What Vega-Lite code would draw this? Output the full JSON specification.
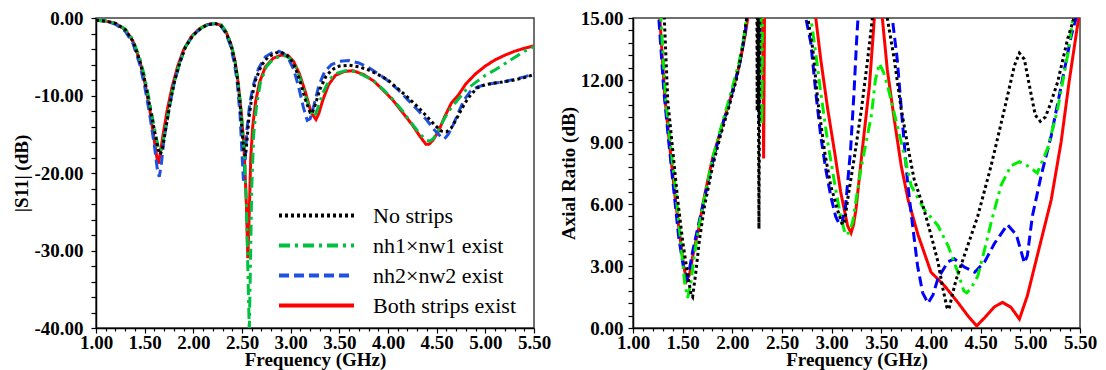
{
  "$schema": "https://vega.github.io/schema/vega-lite/v6.json",
  "background": "white",
  "padding": {"left": 12, "top": 8, "right": 5, "bottom": 2},
  "spacing": 6,
  "config": {
    "view": {"stroke": "#404040", "strokeWidth": 1.5},
    "axis": {
      "grid": false,
      "labelFont": "Liberation Serif", "labelFontWeight": "bold", "labelFontSize": 19, "labelColor": "black",
      "titleFont": "Liberation Serif", "titleFontWeight": "bold", "titleFontSize": 19, "titleColor": "black",
      "domainColor": "black", "domainWidth": 1.5, "tickColor": "black", "tickWidth": 1.2,
      "labelOverlap": false, "labelFlush": false
    }
  },
  "datasets": {
    "s11": [
      {"f":1.00,"v":-0.3,"s":"Both strips exist"},{"f":1.10,"v":-0.4,"s":"Both strips exist"},{"f":1.20,"v":-0.7,"s":"Both strips exist"},{"f":1.30,"v":-1.5,"s":"Both strips exist"},{"f":1.38,"v":-3.0,"s":"Both strips exist"},{"f":1.45,"v":-5.5,"s":"Both strips exist"},{"f":1.50,"v":-8.2,"s":"Both strips exist"},{"f":1.55,"v":-11.6,"s":"Both strips exist"},{"f":1.59,"v":-15.0,"s":"Both strips exist"},{"f":1.625,"v":-18.0,"s":"Both strips exist"},{"f":1.64,"v":-18.8,"s":"Both strips exist"},{"f":1.66,"v":-17.5,"s":"Both strips exist"},{"f":1.69,"v":-15.0,"s":"Both strips exist"},{"f":1.73,"v":-12.0,"s":"Both strips exist"},{"f":1.78,"v":-9.0,"s":"Both strips exist"},{"f":1.84,"v":-6.2,"s":"Both strips exist"},{"f":1.90,"v":-4.1,"s":"Both strips exist"},{"f":1.98,"v":-2.4,"s":"Both strips exist"},{"f":2.06,"v":-1.4,"s":"Both strips exist"},{"f":2.14,"v":-0.85,"s":"Both strips exist"},{"f":2.22,"v":-0.7,"s":"Both strips exist"},{"f":2.29,"v":-0.95,"s":"Both strips exist"},{"f":2.34,"v":-1.9,"s":"Both strips exist"},{"f":2.39,"v":-3.5,"s":"Both strips exist"},{"f":2.43,"v":-5.7,"s":"Both strips exist"},{"f":2.46,"v":-8.3,"s":"Both strips exist"},{"f":2.49,"v":-11.9,"s":"Both strips exist"},{"f":2.52,"v":-16.5,"s":"Both strips exist"},{"f":2.545,"v":-24.0,"s":"Both strips exist"},{"f":2.56,"v":-31.0,"s":"Both strips exist"},{"f":2.575,"v":-25.0,"s":"Both strips exist"},{"f":2.59,"v":-18.0,"s":"Both strips exist"},{"f":2.61,"v":-14.0,"s":"Both strips exist"},{"f":2.64,"v":-10.8,"s":"Both strips exist"},{"f":2.68,"v":-8.3,"s":"Both strips exist"},{"f":2.74,"v":-6.3,"s":"Both strips exist"},{"f":2.82,"v":-5.2,"s":"Both strips exist"},{"f":2.90,"v":-4.8,"s":"Both strips exist"},{"f":2.97,"v":-4.8,"s":"Both strips exist"},{"f":3.03,"v":-5.6,"s":"Both strips exist"},{"f":3.09,"v":-7.2,"s":"Both strips exist"},{"f":3.15,"v":-9.5,"s":"Both strips exist"},{"f":3.21,"v":-12.2,"s":"Both strips exist"},{"f":3.26,"v":-13.1,"s":"Both strips exist"},{"f":3.29,"v":-12.3,"s":"Both strips exist"},{"f":3.33,"v":-10.6,"s":"Both strips exist"},{"f":3.39,"v":-8.6,"s":"Both strips exist"},{"f":3.46,"v":-7.4,"s":"Both strips exist"},{"f":3.55,"v":-6.9,"s":"Both strips exist"},{"f":3.64,"v":-6.8,"s":"Both strips exist"},{"f":3.75,"v":-7.3,"s":"Both strips exist"},{"f":3.85,"v":-8.1,"s":"Both strips exist"},{"f":3.95,"v":-9.3,"s":"Both strips exist"},{"f":4.05,"v":-10.6,"s":"Both strips exist"},{"f":4.15,"v":-12.2,"s":"Both strips exist"},{"f":4.25,"v":-13.8,"s":"Both strips exist"},{"f":4.33,"v":-15.3,"s":"Both strips exist"},{"f":4.39,"v":-16.3,"s":"Both strips exist"},{"f":4.42,"v":-16.3,"s":"Both strips exist"},{"f":4.46,"v":-15.8,"s":"Both strips exist"},{"f":4.52,"v":-14.6,"s":"Both strips exist"},{"f":4.58,"v":-12.8,"s":"Both strips exist"},{"f":4.65,"v":-11.0,"s":"Both strips exist"},{"f":4.72,"v":-10.0,"s":"Both strips exist"},{"f":4.80,"v":-8.5,"s":"Both strips exist"},{"f":4.90,"v":-7.2,"s":"Both strips exist"},{"f":5.00,"v":-6.2,"s":"Both strips exist"},{"f":5.10,"v":-5.4,"s":"Both strips exist"},{"f":5.20,"v":-4.8,"s":"Both strips exist"},{"f":5.30,"v":-4.3,"s":"Both strips exist"},{"f":5.40,"v":-3.9,"s":"Both strips exist"},{"f":5.50,"v":-3.6,"s":"Both strips exist"},

      {"f":1.00,"v":-0.3,"s":"nh2×nw2 exist"},{"f":1.10,"v":-0.4,"s":"nh2×nw2 exist"},{"f":1.20,"v":-0.8,"s":"nh2×nw2 exist"},{"f":1.30,"v":-1.7,"s":"nh2×nw2 exist"},{"f":1.38,"v":-3.3,"s":"nh2×nw2 exist"},{"f":1.45,"v":-6.0,"s":"nh2×nw2 exist"},{"f":1.50,"v":-8.8,"s":"nh2×nw2 exist"},{"f":1.55,"v":-12.3,"s":"nh2×nw2 exist"},{"f":1.60,"v":-16.5,"s":"nh2×nw2 exist"},{"f":1.63,"v":-19.5,"s":"nh2×nw2 exist"},{"f":1.65,"v":-20.5,"s":"nh2×nw2 exist"},{"f":1.67,"v":-19.0,"s":"nh2×nw2 exist"},{"f":1.70,"v":-15.5,"s":"nh2×nw2 exist"},{"f":1.75,"v":-11.8,"s":"nh2×nw2 exist"},{"f":1.80,"v":-8.5,"s":"nh2×nw2 exist"},{"f":1.86,"v":-5.8,"s":"nh2×nw2 exist"},{"f":1.92,"v":-3.7,"s":"nh2×nw2 exist"},{"f":2.00,"v":-2.2,"s":"nh2×nw2 exist"},{"f":2.08,"v":-1.3,"s":"nh2×nw2 exist"},{"f":2.15,"v":-0.85,"s":"nh2×nw2 exist"},{"f":2.22,"v":-0.75,"s":"nh2×nw2 exist"},{"f":2.28,"v":-1.0,"s":"nh2×nw2 exist"},{"f":2.33,"v":-1.9,"s":"nh2×nw2 exist"},{"f":2.38,"v":-3.5,"s":"nh2×nw2 exist"},{"f":2.42,"v":-5.7,"s":"nh2×nw2 exist"},{"f":2.45,"v":-8.2,"s":"nh2×nw2 exist"},{"f":2.48,"v":-12.5,"s":"nh2×nw2 exist"},{"f":2.50,"v":-17.5,"s":"nh2×nw2 exist"},{"f":2.515,"v":-21.0,"s":"nh2×nw2 exist"},{"f":2.53,"v":-19.0,"s":"nh2×nw2 exist"},{"f":2.55,"v":-14.5,"s":"nh2×nw2 exist"},{"f":2.58,"v":-11.0,"s":"nh2×nw2 exist"},{"f":2.62,"v":-8.5,"s":"nh2×nw2 exist"},{"f":2.67,"v":-6.5,"s":"nh2×nw2 exist"},{"f":2.74,"v":-5.0,"s":"nh2×nw2 exist"},{"f":2.82,"v":-4.4,"s":"nh2×nw2 exist"},{"f":2.88,"v":-4.3,"s":"nh2×nw2 exist"},{"f":2.93,"v":-4.6,"s":"nh2×nw2 exist"},{"f":2.98,"v":-5.3,"s":"nh2×nw2 exist"},{"f":3.03,"v":-6.6,"s":"nh2×nw2 exist"},{"f":3.08,"v":-8.8,"s":"nh2×nw2 exist"},{"f":3.13,"v":-11.5,"s":"nh2×nw2 exist"},{"f":3.17,"v":-13.2,"s":"nh2×nw2 exist"},{"f":3.20,"v":-13.0,"s":"nh2×nw2 exist"},{"f":3.24,"v":-11.2,"s":"nh2×nw2 exist"},{"f":3.29,"v":-8.7,"s":"nh2×nw2 exist"},{"f":3.35,"v":-6.9,"s":"nh2×nw2 exist"},{"f":3.42,"v":-6.0,"s":"nh2×nw2 exist"},{"f":3.50,"v":-5.6,"s":"nh2×nw2 exist"},{"f":3.60,"v":-5.5,"s":"nh2×nw2 exist"},{"f":3.70,"v":-5.8,"s":"nh2×nw2 exist"},{"f":3.80,"v":-6.4,"s":"nh2×nw2 exist"},{"f":3.90,"v":-7.2,"s":"nh2×nw2 exist"},{"f":4.00,"v":-8.1,"s":"nh2×nw2 exist"},{"f":4.10,"v":-9.2,"s":"nh2×nw2 exist"},{"f":4.20,"v":-10.5,"s":"nh2×nw2 exist"},{"f":4.30,"v":-11.8,"s":"nh2×nw2 exist"},{"f":4.40,"v":-13.2,"s":"nh2×nw2 exist"},{"f":4.48,"v":-14.5,"s":"nh2×nw2 exist"},{"f":4.55,"v":-15.4,"s":"nh2×nw2 exist"},{"f":4.58,"v":-15.6,"s":"nh2×nw2 exist"},{"f":4.62,"v":-15.0,"s":"nh2×nw2 exist"},{"f":4.67,"v":-13.8,"s":"nh2×nw2 exist"},{"f":4.72,"v":-12.3,"s":"nh2×nw2 exist"},{"f":4.78,"v":-10.6,"s":"nh2×nw2 exist"},{"f":4.85,"v":-9.4,"s":"nh2×nw2 exist"},{"f":4.92,"v":-8.9,"s":"nh2×nw2 exist"},{"f":5.00,"v":-8.6,"s":"nh2×nw2 exist"},{"f":5.10,"v":-8.4,"s":"nh2×nw2 exist"},{"f":5.20,"v":-8.2,"s":"nh2×nw2 exist"},{"f":5.30,"v":-7.9,"s":"nh2×nw2 exist"},{"f":5.40,"v":-7.6,"s":"nh2×nw2 exist"},{"f":5.50,"v":-7.2,"s":"nh2×nw2 exist"},

      {"f":1.00,"v":-0.3,"s":"nh1×nw1 exist"},{"f":1.10,"v":-0.4,"s":"nh1×nw1 exist"},{"f":1.20,"v":-0.7,"s":"nh1×nw1 exist"},{"f":1.30,"v":-1.4,"s":"nh1×nw1 exist"},{"f":1.38,"v":-2.8,"s":"nh1×nw1 exist"},{"f":1.45,"v":-5.2,"s":"nh1×nw1 exist"},{"f":1.50,"v":-7.6,"s":"nh1×nw1 exist"},{"f":1.55,"v":-10.8,"s":"nh1×nw1 exist"},{"f":1.60,"v":-14.2,"s":"nh1×nw1 exist"},{"f":1.64,"v":-16.7,"s":"nh1×nw1 exist"},{"f":1.665,"v":-17.2,"s":"nh1×nw1 exist"},{"f":1.69,"v":-16.0,"s":"nh1×nw1 exist"},{"f":1.72,"v":-13.8,"s":"nh1×nw1 exist"},{"f":1.76,"v":-11.0,"s":"nh1×nw1 exist"},{"f":1.80,"v":-8.5,"s":"nh1×nw1 exist"},{"f":1.86,"v":-5.8,"s":"nh1×nw1 exist"},{"f":1.92,"v":-3.7,"s":"nh1×nw1 exist"},{"f":2.00,"v":-2.2,"s":"nh1×nw1 exist"},{"f":2.08,"v":-1.3,"s":"nh1×nw1 exist"},{"f":2.15,"v":-0.85,"s":"nh1×nw1 exist"},{"f":2.22,"v":-0.7,"s":"nh1×nw1 exist"},{"f":2.29,"v":-0.9,"s":"nh1×nw1 exist"},{"f":2.34,"v":-1.8,"s":"nh1×nw1 exist"},{"f":2.39,"v":-3.4,"s":"nh1×nw1 exist"},{"f":2.43,"v":-5.6,"s":"nh1×nw1 exist"},{"f":2.46,"v":-8.2,"s":"nh1×nw1 exist"},{"f":2.49,"v":-11.8,"s":"nh1×nw1 exist"},{"f":2.52,"v":-16.5,"s":"nh1×nw1 exist"},{"f":2.545,"v":-24.0,"s":"nh1×nw1 exist"},{"f":2.565,"v":-35.0,"s":"nh1×nw1 exist"},{"f":2.575,"v":-40.5,"s":"nh1×nw1 exist"},{"f":2.585,"v":-33.0,"s":"nh1×nw1 exist"},{"f":2.60,"v":-22.0,"s":"nh1×nw1 exist"},{"f":2.62,"v":-15.0,"s":"nh1×nw1 exist"},{"f":2.65,"v":-11.2,"s":"nh1×nw1 exist"},{"f":2.69,"v":-8.3,"s":"nh1×nw1 exist"},{"f":2.75,"v":-6.3,"s":"nh1×nw1 exist"},{"f":2.82,"v":-5.3,"s":"nh1×nw1 exist"},{"f":2.90,"v":-4.9,"s":"nh1×nw1 exist"},{"f":2.95,"v":-4.9,"s":"nh1×nw1 exist"},{"f":3.00,"v":-5.3,"s":"nh1×nw1 exist"},{"f":3.06,"v":-6.5,"s":"nh1×nw1 exist"},{"f":3.12,"v":-8.6,"s":"nh1×nw1 exist"},{"f":3.18,"v":-11.2,"s":"nh1×nw1 exist"},{"f":3.23,"v":-12.7,"s":"nh1×nw1 exist"},{"f":3.25,"v":-12.6,"s":"nh1×nw1 exist"},{"f":3.28,"v":-11.6,"s":"nh1×nw1 exist"},{"f":3.33,"v":-9.7,"s":"nh1×nw1 exist"},{"f":3.40,"v":-7.9,"s":"nh1×nw1 exist"},{"f":3.48,"v":-7.1,"s":"nh1×nw1 exist"},{"f":3.56,"v":-6.8,"s":"nh1×nw1 exist"},{"f":3.65,"v":-6.9,"s":"nh1×nw1 exist"},{"f":3.75,"v":-7.4,"s":"nh1×nw1 exist"},{"f":3.85,"v":-8.1,"s":"nh1×nw1 exist"},{"f":3.95,"v":-9.2,"s":"nh1×nw1 exist"},{"f":4.05,"v":-10.5,"s":"nh1×nw1 exist"},{"f":4.15,"v":-12.0,"s":"nh1×nw1 exist"},{"f":4.25,"v":-13.7,"s":"nh1×nw1 exist"},{"f":4.33,"v":-15.0,"s":"nh1×nw1 exist"},{"f":4.40,"v":-15.8,"s":"nh1×nw1 exist"},{"f":4.43,"v":-15.9,"s":"nh1×nw1 exist"},{"f":4.47,"v":-15.5,"s":"nh1×nw1 exist"},{"f":4.52,"v":-14.5,"s":"nh1×nw1 exist"},{"f":4.57,"v":-13.2,"s":"nh1×nw1 exist"},{"f":4.63,"v":-11.9,"s":"nh1×nw1 exist"},{"f":4.70,"v":-10.8,"s":"nh1×nw1 exist"},{"f":4.80,"v":-9.3,"s":"nh1×nw1 exist"},{"f":4.90,"v":-8.3,"s":"nh1×nw1 exist"},{"f":5.00,"v":-7.4,"s":"nh1×nw1 exist"},{"f":5.10,"v":-6.7,"s":"nh1×nw1 exist"},{"f":5.20,"v":-5.9,"s":"nh1×nw1 exist"},{"f":5.30,"v":-5.1,"s":"nh1×nw1 exist"},{"f":5.40,"v":-4.3,"s":"nh1×nw1 exist"},{"f":5.50,"v":-3.7,"s":"nh1×nw1 exist"},

      {"f":1.00,"v":-0.3,"s":"No strips"},{"f":1.10,"v":-0.4,"s":"No strips"},{"f":1.20,"v":-0.7,"s":"No strips"},{"f":1.30,"v":-1.5,"s":"No strips"},{"f":1.38,"v":-3.0,"s":"No strips"},{"f":1.45,"v":-5.5,"s":"No strips"},{"f":1.50,"v":-8.0,"s":"No strips"},{"f":1.55,"v":-11.2,"s":"No strips"},{"f":1.60,"v":-14.5,"s":"No strips"},{"f":1.64,"v":-17.0,"s":"No strips"},{"f":1.66,"v":-17.6,"s":"No strips"},{"f":1.68,"v":-17.0,"s":"No strips"},{"f":1.71,"v":-14.8,"s":"No strips"},{"f":1.75,"v":-11.8,"s":"No strips"},{"f":1.80,"v":-8.5,"s":"No strips"},{"f":1.86,"v":-5.8,"s":"No strips"},{"f":1.92,"v":-3.7,"s":"No strips"},{"f":2.00,"v":-2.2,"s":"No strips"},{"f":2.08,"v":-1.3,"s":"No strips"},{"f":2.15,"v":-0.85,"s":"No strips"},{"f":2.22,"v":-0.7,"s":"No strips"},{"f":2.28,"v":-0.95,"s":"No strips"},{"f":2.33,"v":-1.8,"s":"No strips"},{"f":2.38,"v":-3.2,"s":"No strips"},{"f":2.42,"v":-5.2,"s":"No strips"},{"f":2.45,"v":-7.5,"s":"No strips"},{"f":2.48,"v":-11.0,"s":"No strips"},{"f":2.50,"v":-14.5,"s":"No strips"},{"f":2.52,"v":-17.3,"s":"No strips"},{"f":2.535,"v":-17.8,"s":"No strips"},{"f":2.55,"v":-16.0,"s":"No strips"},{"f":2.57,"v":-13.0,"s":"No strips"},{"f":2.60,"v":-10.3,"s":"No strips"},{"f":2.64,"v":-8.0,"s":"No strips"},{"f":2.70,"v":-6.1,"s":"No strips"},{"f":2.77,"v":-5.0,"s":"No strips"},{"f":2.85,"v":-4.5,"s":"No strips"},{"f":2.90,"v":-4.4,"s":"No strips"},{"f":2.95,"v":-4.7,"s":"No strips"},{"f":3.00,"v":-5.3,"s":"No strips"},{"f":3.05,"v":-6.5,"s":"No strips"},{"f":3.10,"v":-8.3,"s":"No strips"},{"f":3.15,"v":-10.5,"s":"No strips"},{"f":3.20,"v":-12.2,"s":"No strips"},{"f":3.22,"v":-12.3,"s":"No strips"},{"f":3.25,"v":-11.3,"s":"No strips"},{"f":3.30,"v":-9.2,"s":"No strips"},{"f":3.36,"v":-7.6,"s":"No strips"},{"f":3.42,"v":-6.7,"s":"No strips"},{"f":3.50,"v":-6.2,"s":"No strips"},{"f":3.60,"v":-6.1,"s":"No strips"},{"f":3.70,"v":-6.3,"s":"No strips"},{"f":3.80,"v":-6.7,"s":"No strips"},{"f":3.90,"v":-7.3,"s":"No strips"},{"f":4.00,"v":-8.0,"s":"No strips"},{"f":4.10,"v":-9.1,"s":"No strips"},{"f":4.20,"v":-10.2,"s":"No strips"},{"f":4.30,"v":-11.4,"s":"No strips"},{"f":4.40,"v":-12.7,"s":"No strips"},{"f":4.48,"v":-13.8,"s":"No strips"},{"f":4.55,"v":-14.6,"s":"No strips"},{"f":4.60,"v":-14.7,"s":"No strips"},{"f":4.65,"v":-14.2,"s":"No strips"},{"f":4.70,"v":-13.1,"s":"No strips"},{"f":4.75,"v":-11.9,"s":"No strips"},{"f":4.80,"v":-10.8,"s":"No strips"},{"f":4.85,"v":-9.9,"s":"No strips"},{"f":4.92,"v":-9.0,"s":"No strips"},{"f":5.00,"v":-8.6,"s":"No strips"},{"f":5.10,"v":-8.4,"s":"No strips"},{"f":5.20,"v":-8.2,"s":"No strips"},{"f":5.30,"v":-8.0,"s":"No strips"},{"f":5.40,"v":-7.7,"s":"No strips"},{"f":5.50,"v":-7.3,"s":"No strips"}
    ],
    "ar": [
      {"f":1.23,"v":20,"s":"Both strips exist"},{"f":1.27,"v":15,"s":"Both strips exist"},{"f":1.32,"v":11.2,"s":"Both strips exist"},{"f":1.37,"v":8.8,"s":"Both strips exist"},{"f":1.42,"v":6.5,"s":"Both strips exist"},{"f":1.47,"v":4.5,"s":"Both strips exist"},{"f":1.51,"v":3.0,"s":"Both strips exist"},{"f":1.54,"v":2.3,"s":"Both strips exist"},{"f":1.57,"v":2.6,"s":"Both strips exist"},{"f":1.61,"v":3.7,"s":"Both strips exist"},{"f":1.66,"v":4.8,"s":"Both strips exist"},{"f":1.72,"v":6.4,"s":"Both strips exist"},{"f":1.80,"v":8.2,"s":"Both strips exist"},{"f":1.886,"v":9.6,"s":"Both strips exist"},{"f":1.987,"v":11.2,"s":"Both strips exist"},{"f":2.07,"v":12.7,"s":"Both strips exist"},{"f":2.13,"v":14.2,"s":"Both strips exist"},{"f":2.155,"v":15,"s":"Both strips exist"},{"f":2.17,"v":20,"s":"Both strips exist"},{"f":2.30,"v":20,"s":"Both strips exist"},{"f":2.315,"v":8.2,"s":"Both strips exist"},{"f":2.33,"v":20,"s":"Both strips exist"},{"f":2.78,"v":20,"s":"Both strips exist"},{"f":2.84,"v":15,"s":"Both strips exist"},{"f":2.89,"v":13.0,"s":"Both strips exist"},{"f":2.96,"v":10.6,"s":"Both strips exist"},{"f":3.03,"v":8.5,"s":"Both strips exist"},{"f":3.09,"v":6.6,"s":"Both strips exist"},{"f":3.16,"v":4.95,"s":"Both strips exist"},{"f":3.195,"v":4.6,"s":"Both strips exist"},{"f":3.22,"v":5.0,"s":"Both strips exist"},{"f":3.245,"v":5.75,"s":"Both strips exist"},{"f":3.31,"v":8.7,"s":"Both strips exist"},{"f":3.38,"v":11.7,"s":"Both strips exist"},{"f":3.43,"v":15,"s":"Both strips exist"},{"f":3.46,"v":20,"s":"Both strips exist"},{"f":3.48,"v":20,"s":"Both strips exist"},{"f":3.51,"v":15,"s":"Both strips exist"},{"f":3.56,"v":12.5,"s":"Both strips exist"},{"f":3.63,"v":10.1,"s":"Both strips exist"},{"f":3.70,"v":7.85,"s":"Both strips exist"},{"f":3.77,"v":6.2,"s":"Both strips exist"},{"f":3.87,"v":4.5,"s":"Both strips exist"},{"f":4.00,"v":2.7,"s":"Both strips exist"},{"f":4.135,"v":2.05,"s":"Both strips exist"},{"f":4.27,"v":1.24,"s":"Both strips exist"},{"f":4.37,"v":0.6,"s":"Both strips exist"},{"f":4.46,"v":0.1,"s":"Both strips exist"},{"f":4.54,"v":0.5,"s":"Both strips exist"},{"f":4.64,"v":1.03,"s":"Both strips exist"},{"f":4.72,"v":1.24,"s":"Both strips exist"},{"f":4.805,"v":1.0,"s":"Both strips exist"},{"f":4.89,"v":0.43,"s":"Both strips exist"},{"f":4.97,"v":1.56,"s":"Both strips exist"},{"f":5.07,"v":3.5,"s":"Both strips exist"},{"f":5.21,"v":6.2,"s":"Both strips exist"},{"f":5.31,"v":9.0,"s":"Both strips exist"},{"f":5.39,"v":11.9,"s":"Both strips exist"},{"f":5.48,"v":14.8,"s":"Both strips exist"},{"f":5.50,"v":15.2,"s":"Both strips exist"},

      {"f":1.22,"v":20,"s":"nh2×nw2 exist"},{"f":1.26,"v":15,"s":"nh2×nw2 exist"},{"f":1.31,"v":11.5,"s":"nh2×nw2 exist"},{"f":1.36,"v":9.0,"s":"nh2×nw2 exist"},{"f":1.41,"v":6.7,"s":"nh2×nw2 exist"},{"f":1.46,"v":4.4,"s":"nh2×nw2 exist"},{"f":1.51,"v":2.9,"s":"nh2×nw2 exist"},{"f":1.545,"v":2.4,"s":"nh2×nw2 exist"},{"f":1.56,"v":2.6,"s":"nh2×nw2 exist"},{"f":1.60,"v":3.7,"s":"nh2×nw2 exist"},{"f":1.65,"v":4.8,"s":"nh2×nw2 exist"},{"f":1.72,"v":6.3,"s":"nh2×nw2 exist"},{"f":1.80,"v":8.0,"s":"nh2×nw2 exist"},{"f":1.886,"v":9.6,"s":"nh2×nw2 exist"},{"f":1.987,"v":11.2,"s":"nh2×nw2 exist"},{"f":2.07,"v":12.7,"s":"nh2×nw2 exist"},{"f":2.13,"v":14.3,"s":"nh2×nw2 exist"},{"f":2.145,"v":15,"s":"nh2×nw2 exist"},{"f":2.16,"v":20,"s":"nh2×nw2 exist"},{"f":2.255,"v":20,"s":"nh2×nw2 exist"},{"f":2.27,"v":10.0,"s":"nh2×nw2 exist"},{"f":2.285,"v":20,"s":"nh2×nw2 exist"},{"f":2.69,"v":20,"s":"nh2×nw2 exist"},{"f":2.74,"v":15,"s":"nh2×nw2 exist"},{"f":2.79,"v":13.8,"s":"nh2×nw2 exist"},{"f":2.84,"v":11.4,"s":"nh2×nw2 exist"},{"f":2.89,"v":9.3,"s":"nh2×nw2 exist"},{"f":2.94,"v":7.7,"s":"nh2×nw2 exist"},{"f":2.99,"v":6.4,"s":"nh2×nw2 exist"},{"f":3.04,"v":5.4,"s":"nh2×nw2 exist"},{"f":3.08,"v":5.0,"s":"nh2×nw2 exist"},{"f":3.10,"v":5.0,"s":"nh2×nw2 exist"},{"f":3.14,"v":5.9,"s":"nh2×nw2 exist"},{"f":3.19,"v":8.6,"s":"nh2×nw2 exist"},{"f":3.225,"v":11.4,"s":"nh2×nw2 exist"},{"f":3.25,"v":13.8,"s":"nh2×nw2 exist"},{"f":3.265,"v":15,"s":"nh2×nw2 exist"},{"f":3.28,"v":20,"s":"nh2×nw2 exist"},{"f":3.59,"v":20,"s":"nh2×nw2 exist"},{"f":3.61,"v":15,"s":"nh2×nw2 exist"},{"f":3.66,"v":13.0,"s":"nh2×nw2 exist"},{"f":3.715,"v":9.8,"s":"nh2×nw2 exist"},{"f":3.765,"v":7.0,"s":"nh2×nw2 exist"},{"f":3.815,"v":4.95,"s":"nh2×nw2 exist"},{"f":3.865,"v":3.0,"s":"nh2×nw2 exist"},{"f":3.916,"v":1.7,"s":"nh2×nw2 exist"},{"f":3.97,"v":1.2,"s":"nh2×nw2 exist"},{"f":4.02,"v":1.6,"s":"nh2×nw2 exist"},{"f":4.07,"v":2.4,"s":"nh2×nw2 exist"},{"f":4.17,"v":3.2,"s":"nh2×nw2 exist"},{"f":4.235,"v":3.35,"s":"nh2×nw2 exist"},{"f":4.335,"v":2.95,"s":"nh2×nw2 exist"},{"f":4.44,"v":2.7,"s":"nh2×nw2 exist"},{"f":4.54,"v":3.2,"s":"nh2×nw2 exist"},{"f":4.64,"v":4.1,"s":"nh2×nw2 exist"},{"f":4.77,"v":5.0,"s":"nh2×nw2 exist"},{"f":4.86,"v":4.5,"s":"nh2×nw2 exist"},{"f":4.94,"v":3.15,"s":"nh2×nw2 exist"},{"f":4.97,"v":3.5,"s":"nh2×nw2 exist"},{"f":5.02,"v":5.4,"s":"nh2×nw2 exist"},{"f":5.11,"v":7.4,"s":"nh2×nw2 exist"},{"f":5.21,"v":9.3,"s":"nh2×nw2 exist"},{"f":5.31,"v":11.7,"s":"nh2×nw2 exist"},{"f":5.41,"v":14.1,"s":"nh2×nw2 exist"},{"f":5.46,"v":15,"s":"nh2×nw2 exist"},{"f":5.48,"v":20,"s":"nh2×nw2 exist"},

      {"f":1.24,"v":20,"s":"nh1×nw1 exist"},{"f":1.28,"v":15,"s":"nh1×nw1 exist"},{"f":1.33,"v":11.0,"s":"nh1×nw1 exist"},{"f":1.38,"v":8.8,"s":"nh1×nw1 exist"},{"f":1.43,"v":6.6,"s":"nh1×nw1 exist"},{"f":1.48,"v":4.2,"s":"nh1×nw1 exist"},{"f":1.52,"v":2.2,"s":"nh1×nw1 exist"},{"f":1.55,"v":1.45,"s":"nh1×nw1 exist"},{"f":1.58,"v":2.1,"s":"nh1×nw1 exist"},{"f":1.62,"v":3.6,"s":"nh1×nw1 exist"},{"f":1.66,"v":4.8,"s":"nh1×nw1 exist"},{"f":1.72,"v":6.3,"s":"nh1×nw1 exist"},{"f":1.80,"v":8.2,"s":"nh1×nw1 exist"},{"f":1.886,"v":9.7,"s":"nh1×nw1 exist"},{"f":1.987,"v":11.4,"s":"nh1×nw1 exist"},{"f":2.07,"v":12.9,"s":"nh1×nw1 exist"},{"f":2.12,"v":14.2,"s":"nh1×nw1 exist"},{"f":2.14,"v":15,"s":"nh1×nw1 exist"},{"f":2.16,"v":20,"s":"nh1×nw1 exist"},{"f":2.28,"v":20,"s":"nh1×nw1 exist"},{"f":2.295,"v":9.8,"s":"nh1×nw1 exist"},{"f":2.31,"v":20,"s":"nh1×nw1 exist"},{"f":2.74,"v":20,"s":"nh1×nw1 exist"},{"f":2.79,"v":15,"s":"nh1×nw1 exist"},{"f":2.84,"v":13.3,"s":"nh1×nw1 exist"},{"f":2.89,"v":11.4,"s":"nh1×nw1 exist"},{"f":2.96,"v":9.0,"s":"nh1×nw1 exist"},{"f":3.03,"v":7.0,"s":"nh1×nw1 exist"},{"f":3.09,"v":5.4,"s":"nh1×nw1 exist"},{"f":3.14,"v":4.5,"s":"nh1×nw1 exist"},{"f":3.17,"v":4.6,"s":"nh1×nw1 exist"},{"f":3.21,"v":5.1,"s":"nh1×nw1 exist"},{"f":3.295,"v":7.7,"s":"nh1×nw1 exist"},{"f":3.40,"v":10.3,"s":"nh1×nw1 exist"},{"f":3.44,"v":12.0,"s":"nh1×nw1 exist"},{"f":3.48,"v":12.8,"s":"nh1×nw1 exist"},{"f":3.52,"v":12.4,"s":"nh1×nw1 exist"},{"f":3.564,"v":11.7,"s":"nh1×nw1 exist"},{"f":3.63,"v":10.4,"s":"nh1×nw1 exist"},{"f":3.70,"v":9.0,"s":"nh1×nw1 exist"},{"f":3.80,"v":6.9,"s":"nh1×nw1 exist"},{"f":3.93,"v":5.75,"s":"nh1×nw1 exist"},{"f":4.07,"v":4.95,"s":"nh1×nw1 exist"},{"f":4.17,"v":4.0,"s":"nh1×nw1 exist"},{"f":4.27,"v":2.7,"s":"nh1×nw1 exist"},{"f":4.33,"v":1.8,"s":"nh1×nw1 exist"},{"f":4.36,"v":1.7,"s":"nh1×nw1 exist"},{"f":4.40,"v":1.9,"s":"nh1×nw1 exist"},{"f":4.47,"v":2.5,"s":"nh1×nw1 exist"},{"f":4.54,"v":3.8,"s":"nh1×nw1 exist"},{"f":4.605,"v":5.1,"s":"nh1×nw1 exist"},{"f":4.705,"v":6.9,"s":"nh1×nw1 exist"},{"f":4.805,"v":7.85,"s":"nh1×nw1 exist"},{"f":4.89,"v":8.05,"s":"nh1×nw1 exist"},{"f":4.99,"v":7.8,"s":"nh1×nw1 exist"},{"f":5.07,"v":7.5,"s":"nh1×nw1 exist"},{"f":5.175,"v":8.7,"s":"nh1×nw1 exist"},{"f":5.275,"v":10.6,"s":"nh1×nw1 exist"},{"f":5.376,"v":13.2,"s":"nh1×nw1 exist"},{"f":5.43,"v":15,"s":"nh1×nw1 exist"},{"f":5.45,"v":20,"s":"nh1×nw1 exist"},

      {"f":1.25,"v":20,"s":"No strips"},{"f":1.315,"v":15,"s":"No strips"},{"f":1.35,"v":11.0,"s":"No strips"},{"f":1.40,"v":8.6,"s":"No strips"},{"f":1.45,"v":6.2,"s":"No strips"},{"f":1.50,"v":4.2,"s":"No strips"},{"f":1.55,"v":2.6,"s":"No strips"},{"f":1.585,"v":1.6,"s":"No strips"},{"f":1.60,"v":1.5,"s":"No strips"},{"f":1.63,"v":2.6,"s":"No strips"},{"f":1.67,"v":4.3,"s":"No strips"},{"f":1.72,"v":5.9,"s":"No strips"},{"f":1.80,"v":7.8,"s":"No strips"},{"f":1.88,"v":9.3,"s":"No strips"},{"f":1.96,"v":10.6,"s":"No strips"},{"f":2.04,"v":12.0,"s":"No strips"},{"f":2.10,"v":13.5,"s":"No strips"},{"f":2.145,"v":15,"s":"No strips"},{"f":2.16,"v":20,"s":"No strips"},{"f":2.245,"v":20,"s":"No strips"},{"f":2.25,"v":10.5,"s":"No strips"},{"f":2.256,"v":20,"s":"No strips"},{"f":2.268,"v":4.8,"s":"No strips"},{"f":2.282,"v":20,"s":"No strips"},{"f":2.70,"v":20,"s":"No strips"},{"f":2.76,"v":15,"s":"No strips"},{"f":2.81,"v":13.5,"s":"No strips"},{"f":2.86,"v":11.0,"s":"No strips"},{"f":2.93,"v":8.5,"s":"No strips"},{"f":2.99,"v":6.9,"s":"No strips"},{"f":3.06,"v":5.7,"s":"No strips"},{"f":3.11,"v":5.0,"s":"No strips"},{"f":3.13,"v":5.1,"s":"No strips"},{"f":3.16,"v":6.2,"s":"No strips"},{"f":3.23,"v":8.3,"s":"No strips"},{"f":3.30,"v":10.6,"s":"No strips"},{"f":3.36,"v":12.9,"s":"No strips"},{"f":3.41,"v":15,"s":"No strips"},{"f":3.45,"v":20,"s":"No strips"},{"f":3.52,"v":20,"s":"No strips"},{"f":3.56,"v":15,"s":"No strips"},{"f":3.63,"v":13.0,"s":"No strips"},{"f":3.70,"v":10.6,"s":"No strips"},{"f":3.77,"v":8.7,"s":"No strips"},{"f":3.83,"v":7.2,"s":"No strips"},{"f":3.92,"v":5.9,"s":"No strips"},{"f":4.00,"v":4.5,"s":"No strips"},{"f":4.07,"v":3.2,"s":"No strips"},{"f":4.12,"v":1.9,"s":"No strips"},{"f":4.16,"v":1.0,"s":"No strips"},{"f":4.18,"v":0.9,"s":"No strips"},{"f":4.21,"v":1.5,"s":"No strips"},{"f":4.25,"v":2.3,"s":"No strips"},{"f":4.335,"v":3.5,"s":"No strips"},{"f":4.47,"v":5.4,"s":"No strips"},{"f":4.605,"v":7.85,"s":"No strips"},{"f":4.74,"v":10.6,"s":"No strips"},{"f":4.84,"v":12.7,"s":"No strips"},{"f":4.89,"v":13.3,"s":"No strips"},{"f":4.94,"v":13.0,"s":"No strips"},{"f":5.00,"v":11.5,"s":"No strips"},{"f":5.05,"v":10.3,"s":"No strips"},{"f":5.10,"v":10.0,"s":"No strips"},{"f":5.15,"v":10.2,"s":"No strips"},{"f":5.20,"v":10.8,"s":"No strips"},{"f":5.275,"v":11.9,"s":"No strips"},{"f":5.376,"v":14.0,"s":"No strips"},{"f":5.44,"v":15,"s":"No strips"},{"f":5.47,"v":20,"s":"No strips"}
    ]
  },
  "resolve": {"scale": {"color": "independent", "strokeDash": "independent"}, "legend": {"color": "independent", "strokeDash": "independent"}},
  "hconcat": [
    {
      "width": 438, "height": 310,
      "data": {"name": "s11"},
      "mark": {"type": "line", "strokeWidth": 3, "clip": true},
      "encoding": {
        "x": {"field": "f", "type": "quantitative", "scale": {"domain": [1, 5.5], "nice": false, "zero": false},
          "axis": {"title": "Frequency (GHz)", "values": [1,1.1,1.2,1.3,1.4,1.5,1.6,1.7,1.8,1.9,2,2.1,2.2,2.3,2.4,2.5,2.6,2.7,2.8,2.9,3,3.1,3.2,3.3,3.4,3.5,3.6,3.7,3.8,3.9,4,4.1,4.2,4.3,4.4,4.5,4.6,4.7,4.8,4.9,5,5.1,5.2,5.3,5.4,5.5],
            "labelExpr": "abs(datum.value*2-round(datum.value*2))<0.001 ? format(datum.value,'.2f') : ''",
            "tickSize": {"condition": {"test": "abs(datum.value*2-round(datum.value*2))<0.001", "value": 5}, "value": 3},
            "labelPadding": 0, "titlePadding": -2}},
        "y": {"field": "v", "type": "quantitative", "scale": {"domain": [-40, 0], "nice": false, "zero": false},
          "axis": {"title": "|S11| (dB)", "values": [-40,-38,-36,-34,-32,-30,-28,-26,-24,-22,-20,-18,-16,-14,-12,-10,-8,-6,-4,-2,0],
            "labelExpr": "datum.value % 10 === 0 ? replace(format(datum.value,'.2f'),'\u2212','-') : ''",
            "tickSize": 5, "labelPadding": 8, "titlePadding": 2}},
        "color": {"field": "s", "type": "nominal",
          "scale": {"domain": ["No strips", "nh1×nw1 exist", "nh2×nw2 exist", "Both strips exist"], "range": ["#000000", "#00c040", "#2050e0", "#ff0000"]},
          "legend": {"orient": "none", "legendX": 206, "legendY": 183, "title": null, "labelFont": "Liberation Serif", "labelFontSize": 22, "labelColor": "black", "symbolType": "M-3,0H3", "symbolSize": 625, "symbolStrokeWidth": 4, "labelOffset": 42, "rowPadding": 4, "labelLimit": 300}},
        "strokeDash": {"field": "s", "type": "nominal",
          "scale": {"domain": ["No strips", "nh1×nw1 exist", "nh2×nw2 exist", "Both strips exist"], "range": [[3, 3], [11, 5, 3, 5], [10, 5], [1, 0]]},
          "legend": {"orient": "none", "legendX": 206, "legendY": 183, "title": null, "labelFont": "Liberation Serif", "labelFontSize": 22, "labelColor": "black", "symbolType": "M-3,0H3", "symbolSize": 625, "symbolStrokeWidth": 4, "labelOffset": 42, "rowPadding": 4, "labelLimit": 300}}
      }
    },
    {
      "width": 447, "height": 310,
      "data": {"name": "ar"},
      "mark": {"type": "line", "strokeWidth": 3, "clip": true},
      "encoding": {
        "x": {"field": "f", "type": "quantitative", "scale": {"domain": [1, 5.5], "nice": false, "zero": false},
          "axis": {"title": "Frequency (GHz)", "values": [1,1.1,1.2,1.3,1.4,1.5,1.6,1.7,1.8,1.9,2,2.1,2.2,2.3,2.4,2.5,2.6,2.7,2.8,2.9,3,3.1,3.2,3.3,3.4,3.5,3.6,3.7,3.8,3.9,4,4.1,4.2,4.3,4.4,4.5,4.6,4.7,4.8,4.9,5,5.1,5.2,5.3,5.4,5.5],
            "labelExpr": "abs(datum.value*2-round(datum.value*2))<0.001 ? format(datum.value,'.2f') : ''",
            "tickSize": {"condition": {"test": "abs(datum.value*2-round(datum.value*2))<0.001", "value": 5}, "value": 3},
            "labelPadding": 0, "titlePadding": -2}},
        "y": {"field": "v", "type": "quantitative", "scale": {"domain": [0, 15], "nice": false, "zero": false},
          "axis": {"title": "Axial Ratio (dB)", "values": [0,0.6,1.2,1.8,2.4,3,3.6,4.2,4.8,5.4,6,6.6,7.2,7.8,8.4,9,9.6,10.2,10.8,11.4,12,12.6,13.2,13.8,14.4,15],
            "labelExpr": "abs(datum.value/3-round(datum.value/3))<0.001 ? format(datum.value,'.2f') : ''",
            "tickSize": 5, "labelPadding": 5, "titlePadding": 2}},
        "color": {"field": "s", "type": "nominal",
          "scale": {"domain": ["No strips", "nh1×nw1 exist", "nh2×nw2 exist", "Both strips exist"], "range": ["#000000", "#00ee00", "#0000ff", "#ff0000"]},
          "legend": null},
        "strokeDash": {"field": "s", "type": "nominal",
          "scale": {"domain": ["No strips", "nh1×nw1 exist", "nh2×nw2 exist", "Both strips exist"], "range": [[3, 3], [11, 5, 3, 5], [10, 5], [1, 0]]},
          "legend": null}
      }
    }
  ]
}
